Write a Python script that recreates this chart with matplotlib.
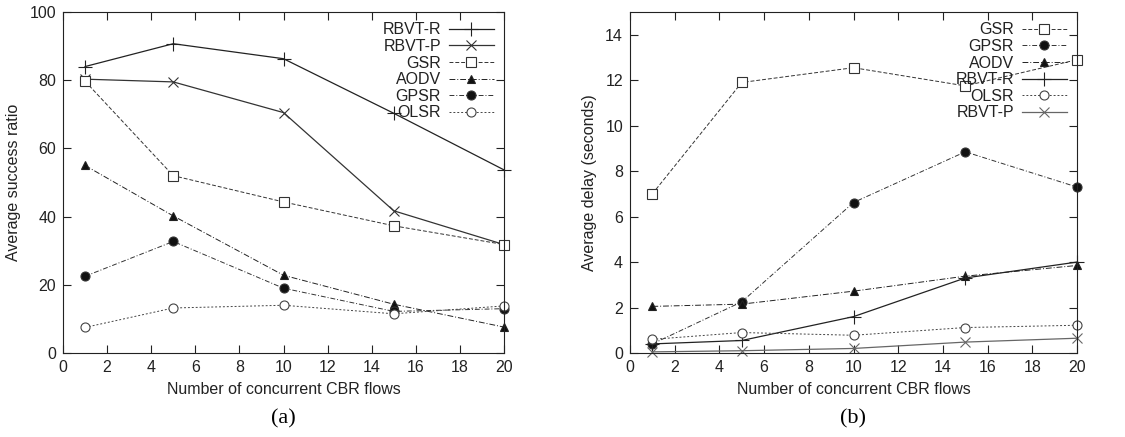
import matplotlib
matplotlib.use("Agg")
import matplotlib.pyplot as plt

plt.rcParams['font.family'] = ['Liberation Sans', 'DejaVu Sans']

flows = [1, 5, 10, 15, 20]

# (a) success ratio
a_rbvt_r = [84.0, 90.7, 86.3, 70.3, 53.7]
a_rbvt_p = [80.3, 79.5, 70.5, 41.7, 31.8]
a_gsr = [79.7, 52.0, 44.3, 37.3, 31.8]
a_aodv = [55.0, 40.2, 22.8, 14.3, 7.6]
a_gpsr = [22.5, 32.7, 19.0, 12.2, 13.0]
a_olsr = [7.5, 13.2, 14.0, 11.5, 13.8]

# (b) delay
b_gsr = [7.0, 11.9, 12.55, 11.75, 12.9]
b_gpsr = [0.4, 2.25, 6.62, 8.85, 7.3]
b_aodv = [2.05, 2.15, 2.72, 3.38, 3.85]
b_rbvt_r = [0.4, 0.55, 1.6, 3.3, 4.0]
b_olsr = [0.6, 0.9, 0.78, 1.12, 1.22]
b_rbvt_p = [0.05, 0.1, 0.2, 0.48, 0.65]

xticks = list(range(0, 21, 2))

styles = {
    'RBVT-R': dict(color='#222222', ls='-', marker='+', ms=10, mfc='none', lw=0.9),
    'RBVT-P': dict(color='#333333', ls='-', marker='x', ms=7, mfc='none', lw=0.9),
    'GSR': dict(color='#333333', ls=(0, (4, 2)), marker='s', ms=6.5, mfc='white', lw=0.7),
    'AODV': dict(color='#222222', ls=(0, (6, 2, 1, 2)), marker='^', ms=6, mfc='#111111', lw=0.7),
    'GPSR': dict(color='#333333', ls=(0, (5, 2, 1, 2)), marker='o', ms=6.5, mfc='#111111', lw=0.7),
    'OLSR': dict(color='#444444', ls=(0, (2, 2)), marker='o', ms=6.5, mfc='white', lw=0.7),
}

fig = plt.figure(figsize=(11.25, 4.37), dpi=100)
W, H = 1125, 437
ax1 = fig.add_axes([63 / W, 1 - 353 / H, (504 - 63) / W, (353 - 12) / H])
ax2 = fig.add_axes([630 / W, 1 - 353 / H, (1077 - 630) / W, (353 - 12) / H])

def draw(ax, series):
    for name, ys in series:
        st = styles[name].copy()
        if ax is ax2 and name == 'RBVT-P':
            st['color'] = '#666666'
        ax.plot(flows, ys, label=name, markeredgecolor=st['color'], markeredgewidth=0.8,
                clip_on=False, **st)

draw(ax1, [('RBVT-R', a_rbvt_r), ('RBVT-P', a_rbvt_p), ('GSR', a_gsr),
           ('AODV', a_aodv), ('GPSR', a_gpsr), ('OLSR', a_olsr)])
draw(ax2, [('GSR', b_gsr), ('GPSR', b_gpsr), ('AODV', b_aodv),
           ('RBVT-R', b_rbvt_r), ('OLSR', b_olsr), ('RBVT-P', b_rbvt_p)])

ax1.set_xlim(0, 20)
ax1.set_ylim(0, 100)
ax1.set_yticks(range(0, 101, 20))
ax2.set_xlim(0, 20)
ax2.set_ylim(0, 15)
ax2.set_yticks(range(0, 15, 2))

FS = 11.5
for ax in (ax1, ax2):
    ax.set_xticks(xticks)
    ax.tick_params(direction='in', top=True, right=True, length=6, width=0.8,
                   labelsize=FS, colors='#222222', pad=5)
    for sp in ax.spines.values():
        sp.set_linewidth(0.8)
        sp.set_color('#222222')
    ax.set_xlabel('Number of concurrent CBR flows', fontsize=FS, color='#222222', labelpad=5)
    leg = ax.legend(loc='upper right', frameon=False, markerfirst=False, fontsize=FS,
                    handlelength=2.8, labelspacing=0.1, borderaxespad=0.5,
                    handletextpad=0.5, borderpad=0.15)
    for t in leg.get_texts():
        t.set_color('#222222')

ax1.set_ylabel('Average success ratio', fontsize=FS, color='#222222', labelpad=6)
ax2.set_ylabel('Average delay (seconds)', fontsize=FS, color='#222222', labelpad=6)

fig.text(283 / W, 1 - 419 / H, '(a)', ha='center', va='center', fontsize=16,
         family=['Liberation Serif', 'DejaVu Serif'])
fig.text(853 / W, 1 - 419 / H, '(b)', ha='center', va='center', fontsize=16,
         family=['Liberation Serif', 'DejaVu Serif'])

fig.savefig('out.png', dpi=100)
